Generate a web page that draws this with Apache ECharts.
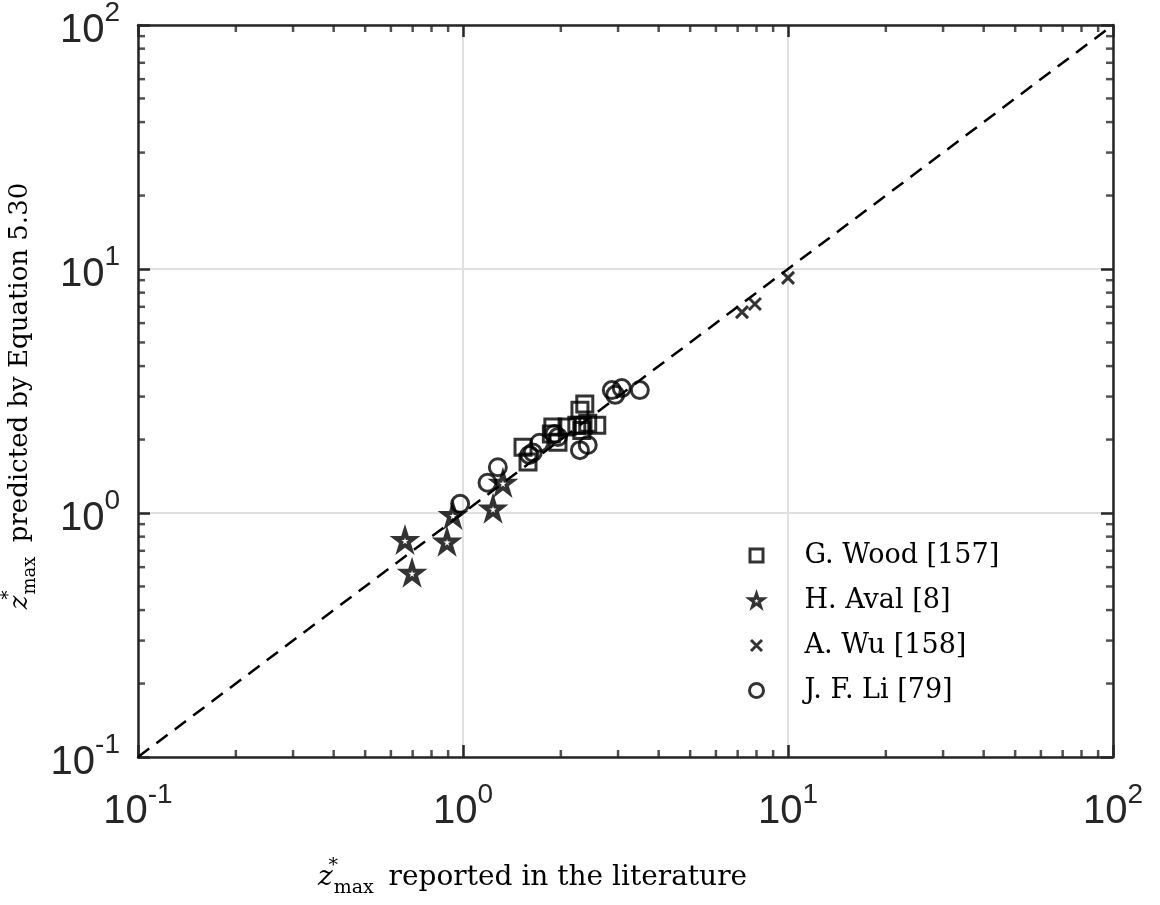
<!DOCTYPE html>
<html><head><meta charset="utf-8">
<script src="https://cdn.jsdelivr.net/npm/echarts@6/dist/echarts.min.js"></script>
<style>html,body{margin:0;padding:0;background:#fff}#c{width:1160px;height:905px}</style>
</head><body><div id="c"></div>
<script>
// ---- data ----
const woodX = [1.53, 1.585, 1.87, 1.89, 1.96, 2.09, 2.24, 2.29, 2.32, 2.34, 2.37, 2.42, 2.58];
const woodY = [1.86, 1.62, 2.11, 2.25, 1.95, 2.25, 2.29, 2.64, 2.18, 2.29, 2.80, 2.33, 2.29];
const avalX = [0.663, 0.697, 0.893, 0.931, 1.237, 1.327];
const avalY = [0.774, 0.568, 0.762, 0.98, 1.04, 1.327];
const wuX = [7.22, 7.91, 10.0];
const wuY = [6.66, 7.19, 9.2];
const liX = [0.98, 1.19, 1.28, 1.60, 1.64, 1.72, 1.91, 1.96, 2.29, 2.42, 2.87, 2.94, 3.08, 3.5];
const liY = [1.09, 1.33, 1.54, 1.73, 1.77, 1.94, 2.11, 2.05, 1.81, 1.90, 3.19, 3.05, 3.25, 3.19];
const refLineX = [0.1, 100];
const refLineY = [0.1, 100];
const seriesNames = ['G. Wood [157]', 'H. Aval [8]', 'A. Wu [158]', 'J. F. Li [79]'];
const axisMin = 0.1, axisMax = 100;
const decades = [0.1, 1, 10];
const minorFactors = [2, 3, 4, 5, 6, 7, 8, 9];

function pairs(xs, ys) { return xs.map((x, i) => [x, ys[i]]); }
const minorVals = [];
decades.forEach(d => minorFactors.forEach(f => minorVals.push(+(d * f).toPrecision(3))));

const AX = '#262626';
const serif = '"DejaVu Serif", serif';
const sans = '"Liberation Sans", Arial, sans-serif';
const starPath = 'path://M50,0 L61.23,34.55 L97.55,34.55 L68.17,55.9 L79.39,90.45 L50,69.1 L20.61,90.45 L31.83,55.9 L2.45,34.55 L38.77,34.55 Z';
const starIcon = 'path://M-12,-14 M50,0 L61.23,34.55 L97.55,34.55 L68.17,55.9 L79.39,90.45 L50,69.1 L20.61,90.45 L31.83,55.9 L2.45,34.55 L38.77,34.55 Z M112,106';
const xPath = 'path://M0,0 L10,10 M10,0 L0,10';
const sqPath = 'path://M0,0 L10,0 L10,10 L0,10 Z';
const sqIcon = 'path://M-2.5,-2.5 M0,0 L13,0 L13,13 L0,13 Z M15.5,15.5';
const xIcon = 'path://M-3.5,-3.5 M0,0 L11,11 M11,0 L0,11 M14.5,14.5';
const circIcon = 'path://M-2,-2 M0,7 A7,7 0 1,1 14,7 A7,7 0 1,1 0,7 Z M16,16';

function tickLabel(v) { const e = Math.round(Math.log10(v)); return '{b|10}{e|' + e + '}'; }
const labelRich = {
  b: { fontSize: 40, fontFamily: sans, color: AX, verticalAlign: 'bottom', padding: [11, 0, 0, 0] },
  e: { fontSize: 28, fontFamily: sans, color: AX, verticalAlign: 'top' }
};
function nameRich(fs) {
  return {
    z: { fontFamily: serif, fontStyle: 'italic', fontSize: fs, color: '#000' },
    sup: { fontFamily: serif, fontSize: Math.round(fs * 0.68), color: '#000', verticalAlign: 'top', width: 1 },
    sub: { fontFamily: serif, fontSize: Math.round(fs * 0.68), color: '#000', verticalAlign: 'bottom',
      padding: [Math.round(fs * 0.79), 6, 0, 0] }
  };
}

function logAxis(pos, showLabel, extra) {
  return Object.assign({
    type: 'log', logBase: 10, min: axisMin, max: axisMax, splitNumber: 3, position: pos,
    axisLine: { show: true, onZero: false, lineStyle: { color: AX, width: 2.5 } },
    axisTick: { show: true, inside: true, length: 12, lineStyle: { color: AX, width: 2.5 } },
    minorTick: { show: false },
    splitLine: { show: showLabel, lineStyle: { color: '#e0e0e0', width: 2 } },
    axisLabel: { show: showLabel, formatter: tickLabel, rich: labelRich, margin: 22 }
  }, extra || {});
}

function tickSeries(data, size, offset) {
  return { type: 'scatter', data: data, symbol: 'rect', symbolSize: size, symbolOffset: offset,
    itemStyle: { color: AX }, silent: true, clip: false, z: 5, animation: false, legendHoverLink: false };
}

const markerBase = { color: 'transparent', borderColor: '#000', borderWidth: 3 };
const starStyle = { color: 'transparent', borderColor: '#000', borderWidth: 4 };

const option = {
  animation: false,
  backgroundColor: '#fff',
  grid: { left: 138, right: 47, top: 25, bottom: 148, containLabel: false, outerBoundsMode: 'none' },
  xAxis: [
    logAxis('bottom', true, {
      name: '{z|z}{sup|*}{sub|max} reported in the literature', nameLocation: 'middle', nameGap: 100,
      nameTextStyle: { fontFamily: serif, fontSize: 28, color: '#000', rich: nameRich(28), padding: [0, 186, 0, 0] },
      axisLabel: { show: true, formatter: tickLabel, rich: labelRich, margin: 24 }
    }),
    logAxis('top', false)
  ],
  yAxis: [
    logAxis('left', true, {
      name: '{z|z}{sup|*}{sub|max} predicted by Equation 5.30', nameLocation: 'middle', nameGap: 61,
      nameTextStyle: { fontFamily: serif, fontSize: 26, color: '#000', rich: nameRich(26), padding: [0, 10, 0, 0] },
      axisLabel: { show: true, formatter: tickLabel, rich: labelRich, margin: 18 }
    }),
    logAxis('right', false)
  ],
  legend: {
    orient: 'vertical', left: 741, top: 534, itemWidth: 18, itemHeight: 18, itemGap: 12,
    data: [
      { name: seriesNames[0], icon: sqIcon, itemStyle: markerBase },
      { name: seriesNames[1], icon: starIcon, itemStyle: { color: 'transparent', borderColor: '#000', borderWidth: 3 } },
      { name: seriesNames[2], icon: xIcon, itemStyle: markerBase },
      { name: seriesNames[3], icon: circIcon, itemStyle: markerBase }
    ],
    textStyle: { fontFamily: serif, fontSize: 27, color: '#000', lineHeight: 33, padding: [0, 0, 0, 34] }
  },
  series: [
    { type: 'line', data: pairs(refLineX, refLineY), symbol: 'none', silent: true, z: 3,
      lineStyle: { color: '#000', width: 2.5, type: [14, 9] } },
    tickSeries(minorVals.map(v => [v, axisMin]), [2.5, 7], [0, -3.5]),
    tickSeries(minorVals.map(v => [v, axisMax]), [2.5, 7], [0, 3.5]),
    tickSeries(minorVals.map(v => [axisMin, v]), [7, 2.5], [3.5, 0]),
    tickSeries(minorVals.map(v => [axisMax, v]), [7, 2.5], [-3.5, 0]),
    { name: seriesNames[0], type: 'scatter', data: pairs(woodX, woodY), symbol: sqPath, symbolSize: 16,
      itemStyle: markerBase, z: 4, clip: false },
    { name: seriesNames[1], type: 'scatter', data: pairs(avalX, avalY), symbol: starPath, symbolSize: 19,
      itemStyle: starStyle, z: 4, clip: false },
    { name: seriesNames[2], type: 'scatter', data: pairs(wuX, wuY), symbol: xPath, symbolSize: 12,
      itemStyle: markerBase, z: 4, clip: false },
    { name: seriesNames[3], type: 'scatter', data: pairs(liX, liY), symbol: 'circle', symbolSize: 17,
      itemStyle: markerBase, z: 4, clip: false }
  ]
};
const chart = echarts.init(document.getElementById('c'), null, { renderer: 'canvas' });
chart.setOption(option);
</script>
</body></html>
